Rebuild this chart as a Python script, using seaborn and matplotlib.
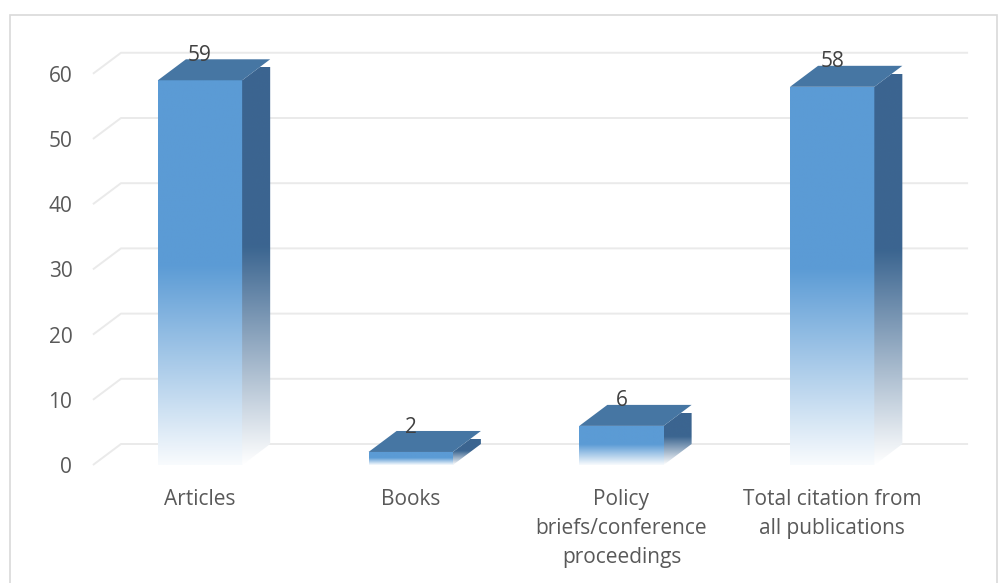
import numpy as np
import matplotlib
matplotlib.use("Agg")
import matplotlib.pyplot as plt
from matplotlib.patches import Polygon, Rectangle
from matplotlib.colors import to_rgb
import seaborn as sns

categories = ["Articles", "Books", "Policy\nbriefs/conference\nproceedings",
              "Total citation from\nall publications"]
values = [59, 2, 6, 58]
value_labels = ["59", "2", "6", "58"]
yticks = [0, 10, 20, 30, 40, 50, 60]

FRONT = "#5B9BD5"
TOP = "#4676A3"
SIDE = "#3B6590"
GRID = "#EAEAEA"
TEXT = "#595959"

sns.set_style("white")
plt.rcParams["font.family"] = ["Open Sans", "DejaVu Sans"]

fig = plt.figure(figsize=(10.07, 5.83), dpi=100)
ax = fig.add_axes([0.0898, 0.1856, 0.8747, 0.7326])

sns.barplot(x=categories, y=values, color=FRONT, saturation=1, width=0.4, ax=ax, zorder=3)

DX, DY = 0.133, 3.22
XL, XR = -0.508, 3.645

# back-wall gridlines with floor diagonal
for v in yticks:
    ax.plot([XL, XL + DX, XR], [v, v + DY, v + DY], color=GRID, lw=1.4, zorder=0.5,
            solid_capstyle="butt")


def gradient_img(rgb, n=256, solid_frac=0.52, floor=0.04):
    f = np.linspace(0, 1, n)
    t = np.clip(f / solid_frac, 0, 1)
    t = floor + (1 - floor) * t
    rgb = np.array(to_rgb(rgb))
    cols = 1 - (1 - rgb)[None, :] * t[:, None]
    return cols[:, None, :]


for bar, val in zip(ax.patches, values):
    x0 = bar.get_x()
    w = bar.get_width()
    h = bar.get_height()
    x1 = x0 + w
    # front face gradient
    bar.set_facecolor("none")
    bar.set_edgecolor("none")
    im = ax.imshow(gradient_img(FRONT), extent=[x0, x1, 0, h], origin="lower",
                   aspect="auto", zorder=3, interpolation="bilinear")
    im.set_clip_path(bar)
    # side face
    side = Polygon([[x1, 0], [x1 + DX, DY], [x1 + DX, h + DY], [x1, h]],
                   closed=True, facecolor="none", edgecolor="none", transform=ax.transData)
    ax.add_patch(side)
    im2 = ax.imshow(gradient_img(SIDE, solid_frac=0.55, floor=0.0),
                    extent=[x1, x1 + DX, 0, h + DY * 0.6], origin="lower",
                    aspect="auto", zorder=3, interpolation="bilinear")
    im2.set_clip_path(side)
    # top face
    top = Polygon([[x0, h], [x0 + DX, h + DY], [x1 + DX, h + DY], [x1, h]],
                  closed=True, facecolor=TOP, edgecolor="none", zorder=3.5)
    ax.add_patch(top)

for i, (val, lab) in enumerate(zip(values, value_labels)):
    ax.text(i, val + DY + 0.6, lab, ha="center", va="center", fontsize=15,
            color="#404040", zorder=10)

ax.set_xlim(-0.52, 3.66)
ax.set_ylim(-1.5, 64)
ax.set_yticks(yticks)
ax.set_yticklabels([str(t) for t in yticks])
ax.tick_params(axis="y", length=0, pad=13, labelsize=15, labelcolor=TEXT)
ax.tick_params(axis="x", length=0, pad=10, labelsize=15, labelcolor=TEXT)
for lbl in ax.get_xticklabels():
    lbl.set_linespacing(1.5)
for s in ax.spines.values():
    s.set_visible(False)
ax.set_xlabel("")
ax.set_ylabel("")
ax.patch.set_alpha(0)

fig.patches.append(Rectangle((10 / 1007, -0.05), (997 - 10) / 1007, (583 - 15) / 583 + 0.05,
                             transform=fig.transFigure, fill=False,
                             edgecolor="#D9D9D9", lw=1.2))

fig.savefig("out.png", dpi=100, facecolor="white")
